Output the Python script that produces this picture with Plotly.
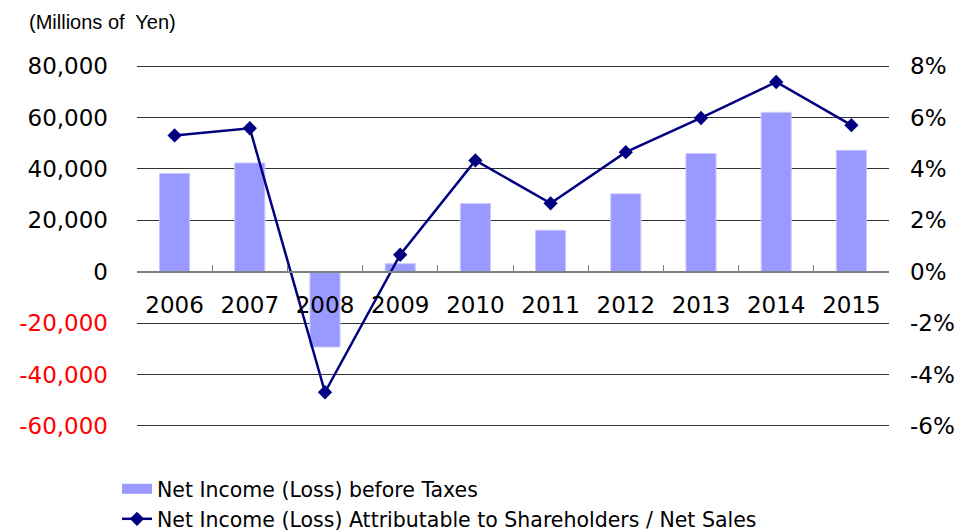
import plotly.graph_objects as go

years = ["2006", "2007", "2008", "2009", "2010", "2011", "2012", "2013", "2014", "2015"]
income_before_taxes = [38200, 42300, -29300, 3100, 26500, 16100, 30300, 46000, 62000, 47200]
income_ratio_pct = [5.3, 5.58, -4.69, 0.66, 4.33, 2.66, 4.65, 5.98, 7.38, 5.7]

left_ticks = [80000, 60000, 40000, 20000, 0, -20000, -40000, -60000]
right_ticks = [8, 6, 4, 2, 0, -2, -4, -6]

FONT = "DejaVu Sans, Verdana, sans-serif"
BAR_COLOR = "#9999ff"
LINE_COLOR = "#000080"

# padding so the outer gridlines (80,000 / -60,000) are not dropped at the edges
PAD = 800
y_range = [-60000 - PAD, 80000 + PAD]
y2_range = [v / 10000 for v in y_range]
zero_pos = -y_range[0] / (y_range[1] - y_range[0])


def left_label(v):
    text = f"{v:,}"
    if v < 0:
        return f"<span style='color:#ff0000'>{text}</span>"
    return text


fig = go.Figure()
fig.add_trace(go.Bar(
    x=years, y=income_before_taxes,
    name="Net Income (Loss) before Taxes",
    marker={"color": BAR_COLOR, "line": {"color": "#c8c8ff", "width": 1}},
    width=0.4,
    showlegend=False,
))
# legend stand-in for the bars: a wide flat swatch like the original
fig.add_trace(go.Scatter(
    x=[None], y=[None], mode="lines",
    name="Net Income (Loss) before Taxes",
    line={"color": BAR_COLOR, "width": 10},
    legend="legend",
))
fig.add_trace(go.Scatter(
    x=years, y=income_ratio_pct, yaxis="y2",
    name="Net Income (Loss) Attributable to Shareholders / Net Sales",
    mode="lines+markers",
    line={"color": LINE_COLOR, "width": 2.5},
    marker={"symbol": "diamond", "size": 11, "color": LINE_COLOR},
    legend="legend2",
))

legend_common = {
    "x": -0.0266, "xanchor": "left", "yanchor": "top",
    "font": {"size": 20.5, "family": FONT},
    "bgcolor": "rgba(0,0,0,0)",
}

# page body has an 8px margin, so the figure is sized to fit inside it
fig.update_layout(
    width=954, height=524,
    margin={"l": 129, "r": 73, "t": 56, "b": 104, "autoexpand": False},
    paper_bgcolor="white", plot_bgcolor="white",
    font={"family": FONT, "size": 23, "color": "#000000"},
    showlegend=True,
    legend={**legend_common, "y": -0.1126},
    legend2={**legend_common, "y": -0.195},
    xaxis={
        "type": "category",
        "range": [-0.5, len(years) - 0.5],
        "anchor": "free", "position": zero_pos,
        "showline": True, "linecolor": "#808080", "linewidth": 1.5,
        "ticks": "inside", "ticklen": 6, "tickcolor": "#808080",
        "tickson": "boundaries",
        "showgrid": False,
        "ticklabelstandoff": 13,
        "tickfont": {"size": 23, "family": FONT},
    },
    yaxis={
        "range": y_range,
        "tickvals": left_ticks,
        "ticktext": [left_label(v) for v in left_ticks],
        "showgrid": True, "gridcolor": "#333333", "gridwidth": 1,
        "zeroline": False, "showline": False,
        "ticklabelstandoff": 28,
        "tickfont": {"size": 23, "family": FONT},
    },
    yaxis2={
        "range": y2_range, "overlaying": "y", "side": "right",
        "tickvals": right_ticks,
        "ticktext": [f"{v}%" for v in right_ticks],
        "showgrid": False, "zeroline": False, "showline": False,
        "ticklabelstandoff": 20,
        "tickfont": {"size": 23, "family": FONT},
    },
    annotations=[{
        "text": "(Millions of&nbsp; Yen)", "xref": "paper", "yref": "paper",
        "x": -0.146, "y": 1.115, "xanchor": "left", "yanchor": "middle",
        "showarrow": False,
        "font": {"size": 20, "family": "Liberation Sans, Arial, sans-serif"},
    }],
)

fig.write_html("out.html")
